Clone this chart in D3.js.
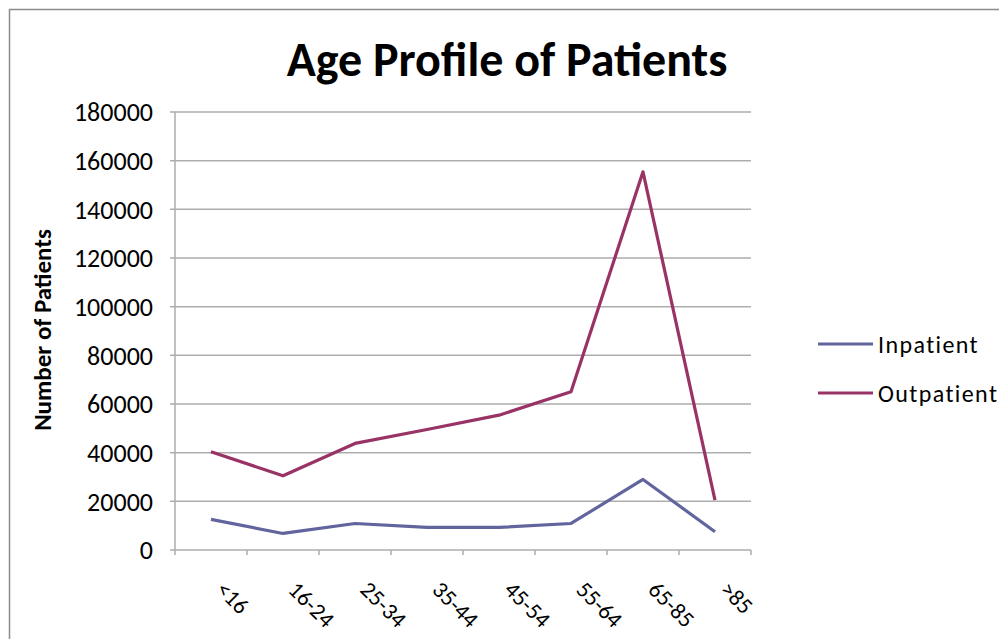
<!DOCTYPE html>
<html><head><meta charset="utf-8">
<script src="https://cdn.jsdelivr.net/npm/d3@7"></script>
<style>
html,body{margin:0;padding:0;background:#fff;}
svg{display:block;font-family:Carlito,Lato,"Liberation Sans",sans-serif;}
</style></head>
<body><svg id="c" width="999" height="639"></svg>
<script>
const categories = ["<16","16-24","25-34","35-44","45-54","55-64","65-85",">85"];
const inpatient = [12600, 6800, 10900, 9300, 9300, 10900, 29000, 7500];
const outpatient = [40400, 30500, 43800, 49500, 55400, 65000, 155400, 20500];
const yTicks = [0,20000,40000,60000,80000,100000,120000,140000,160000,180000];
const seriesNames = ["Inpatient","Outpatient"];
const seriesColors = ["#62649e","#993366"];

(function(){
const svg = d3.select("#c");
svg.append("rect").attr("x",9.5).attr("y",9.5).attr("width",1000).attr("height",700)
  .attr("fill","none").attr("stroke","#8c8c8c").attr("stroke-width",1.5);

const pL=175, pR=751, pT=112, pB=550;
const x = d3.scaleBand().domain(categories).range([pL,pR]);
const y = d3.scaleLinear().domain([0,180000]).range([pB,pT]);

svg.append("g").selectAll("line").data(yTicks).join("line")
  .attr("x1",pL-5).attr("x2",pR).attr("y1",d=>y(d)).attr("y2",d=>y(d))
  .attr("stroke","#adadad").attr("stroke-width",1.5);
svg.append("line").attr("x1",pL).attr("x2",pL).attr("y1",pT).attr("y2",pB)
  .attr("stroke","#adadad").attr("stroke-width",1.5);
svg.append("g").selectAll("line").data(d3.range(categories.length+1)).join("line")
  .attr("x1",d=>pL+d*x.step()).attr("x2",d=>pL+d*x.step())
  .attr("y1",pB).attr("y2",pB+5).attr("stroke","#adadad").attr("stroke-width",1.5);

svg.append("g").selectAll("text").data(yTicks).join("text")
  .attr("x",153).attr("y",d=>y(d)).attr("dy","0.36em").attr("text-anchor","end")
  .attr("font-size",26).attr("fill","#000").text(d=>d);

svg.append("g").selectAll("text").data(categories).join("text")
  .attr("transform",d=>`translate(${x(d)+x.bandwidth()/2+17},${578}) rotate(45)`)
  .attr("dy","0.8em").attr("text-anchor","start")
  .attr("font-size",23).attr("fill","#000").text(d=>d);

svg.append("text").attr("x",507).attr("y",76).attr("text-anchor","middle")
  .attr("font-size",48).attr("font-weight","bold").attr("fill","#000").text("Age Profile of Patients");
svg.append("text").attr("transform","translate(51,330) rotate(-90)").attr("text-anchor","middle")
  .attr("font-size",25).attr("font-weight","bold").attr("fill","#000").text("Number of Patients");

const line = d3.line().x((d,i)=>x(categories[i])+x.bandwidth()/2).y(d=>y(d));
[inpatient,outpatient].forEach((s,k)=>{
  svg.append("path").datum(s).attr("d",line).attr("fill","none")
    .attr("stroke",seriesColors[k]).attr("stroke-width",3.2).attr("stroke-linejoin","round");
});

const lg = svg.append("g");
seriesNames.forEach((n,k)=>{
  const ly = 344 + k*49;
  lg.append("line").attr("x1",818).attr("x2",873).attr("y1",ly).attr("y2",ly)
    .attr("stroke",seriesColors[k]).attr("stroke-width",3.2);
  lg.append("text").attr("x",878).attr("y",ly).attr("dy","0.36em")
    .attr("font-size",24).attr("letter-spacing",1.4).attr("fill","#000").text(n);
});
})();
</script></body></html>
